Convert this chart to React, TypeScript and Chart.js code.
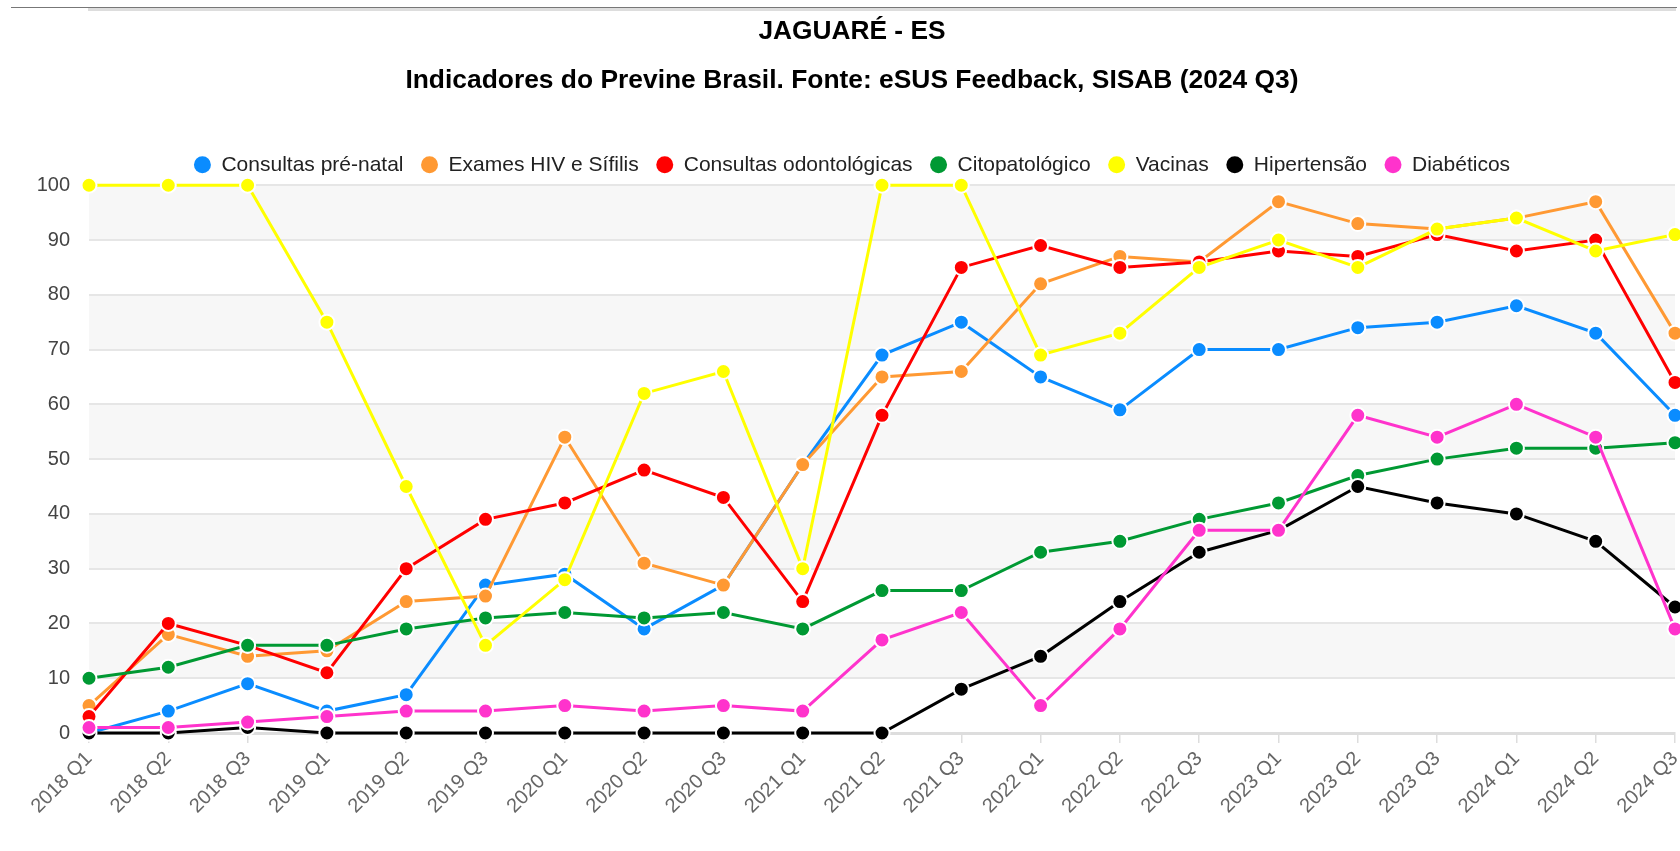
import React, { useEffect, useRef } from "react";
import { Chart, registerables } from "chart.js";

Chart.register(...registerables);

const FONT = "'Liberation Sans', Arial, sans-serif";

const titleText = "JAGUARÉ - ES";
const subtitleText = "Indicadores do Previne Brasil. Fonte: eSUS Feedback, SISAB (2024 Q3)";

const categories = [
  "2018 Q1", "2018 Q2", "2018 Q3", "2019 Q1", "2019 Q2", "2019 Q3",
  "2020 Q1", "2020 Q2", "2020 Q3", "2021 Q1", "2021 Q2", "2021 Q3",
  "2022 Q1", "2022 Q2", "2022 Q3", "2023 Q1", "2023 Q2", "2023 Q3",
  "2024 Q1", "2024 Q2", "2024 Q3",
];

const consultasPreNatal = [0, 4, 9, 4, 7, 27, 29, 19, 27, 49, 69, 75, 65, 59, 70, 70, 74, 75, 78, 73, 58];
const examesHivSifilis = [5, 18, 14, 15, 24, 25, 54, 31, 27, 49, 65, 66, 82, 87, 86, 97, 93, 92, 94, 97, 73];
const consultasOdonto = [3, 20, 16, 11, 30, 39, 42, 48, 43, 24, 58, 85, 89, 85, 86, 88, 87, 91, 88, 90, 64];
const citopatologico = [10, 12, 16, 16, 19, 21, 22, 21, 22, 19, 26, 26, 33, 35, 39, 42, 47, 50, 52, 52, 53];
const vacinas = [100, 100, 100, 75, 45, 16, 28, 62, 66, 30, 100, 100, 69, 73, 85, 90, 85, 92, 94, 88, 91];
const hipertensao = [0, 0, 1, 0, 0, 0, 0, 0, 0, 0, 0, 8, 14, 24, 33, 37, 45, 42, 40, 35, 23];
const diabeticos = [1, 1, 2, 3, 4, 4, 5, 4, 5, 4, 17, 22, 5, 19, 37, 37, 58, 54, 60, 54, 19];

const seriesLabels = [
  "Consultas pré-natal",
  "Exames HIV e Sífilis",
  "Consultas odontológicas",
  "Citopatológico",
  "Vacinas",
  "Hipertensão",
  "Diabéticos",
];
const seriesData = [
  consultasPreNatal,
  examesHivSifilis,
  consultasOdonto,
  citopatologico,
  vacinas,
  hipertensao,
  diabeticos,
];
const seriesColors = ["#0a8cff", "#ff9933", "#ff0000", "#009933", "#ffff00", "#000000", "#ff33cc"];

const yMin = 0;
const yMax = 100;
const yStep = 10;

const bandPlugin = {
  id: "bands",
  beforeDraw(chart: any) {
    const { ctx, chartArea, scales } = chart;
    const y = scales.y;
    const vals = y.ticks.map((t: any) => t.value);
    ctx.save();
    ctx.fillStyle = "#f7f7f7";
    for (let i = 0; i < vals.length - 1; i++) {
      if ((vals.length - 2 - i) % 2 === 0) {
        const top = y.getPixelForValue(vals[i + 1]);
        const bottom = y.getPixelForValue(vals[i]);
        ctx.fillRect(chartArea.left, top, chartArea.right - chartArea.left, bottom - top);
      }
    }
    ctx.restore();
  },
};

function LineChart() {
  const ref = useRef<HTMLCanvasElement | null>(null);
  useEffect(() => {
    if (!ref.current) return;
    const chart = new Chart(ref.current, {
      type: "line",
      data: {
        labels: categories,
        datasets: seriesData.map((d, i) => ({
          label: seriesLabels[i],
          data: d,
          borderColor: seriesColors[i],
          backgroundColor: seriesColors[i],
          pointBackgroundColor: seriesColors[i],
          pointBorderColor: "#ffffff",
          pointBorderWidth: 2,
          pointRadius: 7.5,
          borderWidth: 3,
          tension: 0,
          fill: false,
          clip: false as any,
          order: -i,
        })),
      },
      options: {
        responsive: false,
        animation: false,
        devicePixelRatio: 1,
        layout: { padding: { top: 0, left: 29, right: 29, bottom: 0 } },
        plugins: {
          tooltip: { enabled: false },
          title: {
            display: true,
            text: titleText,
            color: "#000",
            font: { family: FONT, size: 26.3, weight: "bold" },
            padding: { top: 16, bottom: 0 },
          },
          subtitle: {
            display: true,
            text: subtitleText,
            color: "#000",
            font: { family: FONT, size: 26.4, weight: "bold" },
            padding: { top: 17, bottom: 40.5 },
          },
          legend: {
            display: true,
            position: "top",
            labels: {
              usePointStyle: true,
              pointStyle: "circle",
              boxWidth: 17,
              boxHeight: 12,
              padding: 17.5,
              color: "#222",
              font: { family: FONT, size: 21 },
              generateLabels: (c: any) =>
                c.data.datasets.map((ds: any, i: number) => ({
                  text: ds.label,
                  fillStyle: ds.borderColor,
                  strokeStyle: ds.borderColor,
                  lineWidth: 0,
                  pointStyle: "circle",
                  hidden: false,
                  datasetIndex: i,
                  fontColor: "#222",
                })),
            },
          },
        },
        scales: {
          x: {
            afterFit: (s: any) => {
              s.height = 118;
            },
            grid: {
              display: true,
              drawOnChartArea: false,
              drawTicks: true,
              tickLength: 10,
              color: "#dddddd",
              lineWidth: 1.5,
            },
            border: { display: true, color: "#dddddd", width: 3 },
            ticks: {
              autoSkip: false,
              maxRotation: 45,
              minRotation: 45,
              color: "#666",
              padding: 4,
              font: { family: FONT, size: 20 },
            },
          },
          y: {
            min: yMin,
            max: yMax,
            afterFit: (s: any) => {
              s.width = 60;
            },
            grid: { color: "#e6e6e6", lineWidth: 2, drawTicks: false },
            border: { display: false },
            ticks: {
              stepSize: yStep,
              padding: 19,
              color: "#444",
              font: { family: FONT, size: 20 },
            },
          },
        },
      },
      plugins: [bandPlugin],
    });
    return () => chart.destroy();
  }, []);
  return (
    <canvas
      ref={ref}
      width={1704}
      height={851}
      style={{ position: "absolute", left: 0, top: 0, width: 1704, height: 851 }}
    />
  );
}

export default function App() {
  return (
    <div
      style={{
        position: "absolute",
        left: 0,
        top: 0,
        width: 1680,
        height: 851,
        overflow: "hidden",
        background: "#fff",
      }}
    >
      <LineChart />
      <div style={{ position: "absolute", left: 11, top: 7, width: 1666, height: 1, background: "#777" }} />
      <div style={{ position: "absolute", left: 88, top: 8, width: 1588, height: 3, background: "#dddddd" }} />
    </div>
  );
}
